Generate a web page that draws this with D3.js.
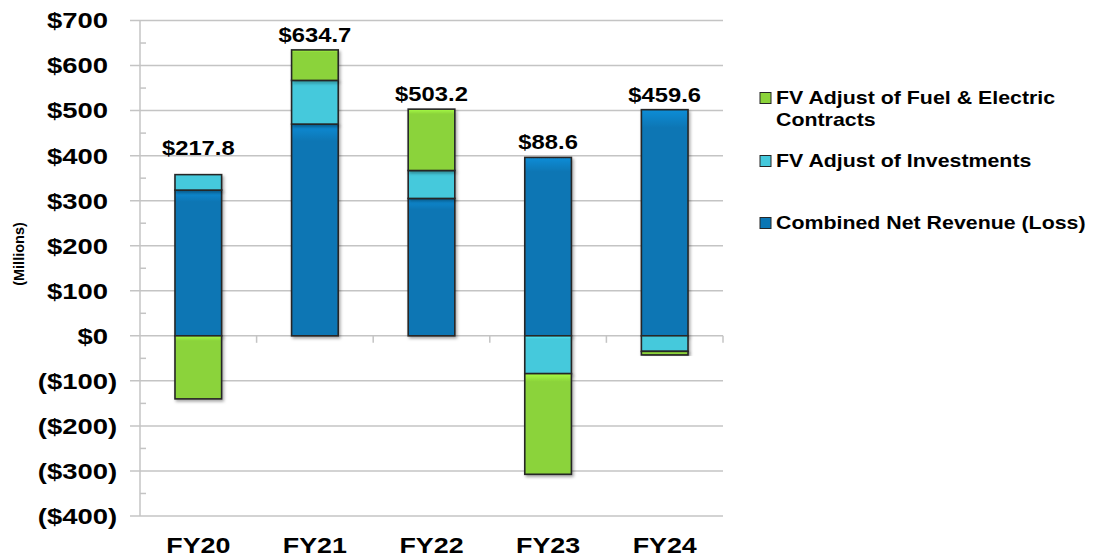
<!DOCTYPE html>
<html>
<head>
<meta charset="utf-8">
<script src="https://cdn.jsdelivr.net/npm/d3@7"></script>
<style>
  body { margin: 0; background: #fff; }
  svg text { font-family: "Liberation Sans", Arial, sans-serif; font-weight: bold; fill: #000; }
</style>
</head>
<body>
<svg id="chart" width="1093" height="560"></svg>
<script>
var years = ['FY20', 'FY21', 'FY22', 'FY23', 'FY24'];
var netRevenue = [323.5, 470.0, 305.0, 396.0, 502.0];
var fvInvestments = [34.3, 97.0, 62.0, -84.0, -34.5];
var fvFuelElectric = [-140.0, 67.7, 136.2, -223.4, -7.9];
var totals = [217.8, 634.7, 503.2, 88.6, 459.6];
var yTicks = [700, 600, 500, 400, 300, 200, 100, 0, -100, -200, -300, -400];

var seriesKeys = ['net', 'inv', 'fuel'];
var seriesNames = {
  fuel: ['FV Adjust of Fuel & Electric', 'Contracts'],
  inv: ['FV Adjust of Investments'],
  net: ['Combined Net Revenue (Loss)']
};
var colors = {net: '#0a76b4', inv: '#45c9dc', fuel: '#8bd33a'};

// the source picture is stretched sideways, so text is too
var stretch = 1.22;

var svg = d3.select('#chart');
// plot box (note: "top" is taken by window.top)
var plotLeft = 140, plotRight = 723, plotTop = 20.5, plotBottom = 516;

var rows = years.map(function (d, i) {
  return {year: d, net: netRevenue[i], inv: fvInvestments[i], fuel: fvFuelElectric[i], total: totals[i]};
});

var x = d3.scaleBand().domain(years).range([plotLeft, plotRight]).paddingInner(0.6).paddingOuter(0.3);
var y = d3.scaleLinear().domain([-400, 700]).range([plotBottom, plotTop]);

var defs = svg.append('defs');
var shadow = defs.append('filter').attr('id', 'shadow')
  .attr('x', '-20%').attr('y', '-20%').attr('width', '150%').attr('height', '150%');
shadow.append('feDropShadow').attr('dx', 1.5).attr('dy', 2).attr('stdDeviation', 1.5)
  .attr('flood-color', '#000').attr('flood-opacity', 0.35);

seriesKeys.forEach(function (k) {
  var g = defs.append('linearGradient').attr('id', 'grad-' + k)
    .attr('x1', 0).attr('y1', 0).attr('x2', 0).attr('y2', 1);
  var c = d3.color(colors[k]);
  g.append('stop').attr('offset', 0).attr('stop-color', c.brighter(0.5));
  g.append('stop').attr('offset', 0.08).attr('stop-color', colors[k]);
  g.append('stop').attr('offset', 1).attr('stop-color', colors[k]);
});

// gridlines
svg.append('g').selectAll('line').data(yTicks).enter().append('line')
  .attr('x1', plotLeft - 10).attr('x2', plotRight)
  .attr('y1', function (d) { return y(d); }).attr('y2', function (d) { return y(d); })
  .attr('stroke', '#c4c4c4').attr('stroke-width', 1.5);

// minor ticks
svg.append('g').selectAll('line').data(d3.range(-350, 700, 100)).enter().append('line')
  .attr('x1', plotLeft).attr('x2', plotLeft + 6)
  .attr('y1', function (d) { return y(d); }).attr('y2', function (d) { return y(d); })
  .attr('stroke', '#c4c4c4').attr('stroke-width', 1.5);

// axis line
svg.append('line').attr('x1', plotLeft).attr('x2', plotLeft).attr('y1', y(700)).attr('y2', y(-400))
  .attr('stroke', '#c4c4c4').attr('stroke-width', 1.5);

// category ticks on the zero line
svg.append('g').selectAll('line').data(years).enter().append('line')
  .attr('x1', function (d) { return x(d) + x.bandwidth() + x.step() * 0.3; })
  .attr('x2', function (d) { return x(d) + x.bandwidth() + x.step() * 0.3; })
  .attr('y1', y(0)).attr('y2', y(0) + 7)
  .attr('stroke', '#c4c4c4').attr('stroke-width', 1.5);

// y labels
var fontTick = 22.5;
svg.append('g').selectAll('g').data(yTicks).enter().append('g')
  .attr('transform', function (d) {
    var xr = 108 + (d < 0 ? 0.333 * fontTick * stretch : 0);
    return 'translate(' + xr + ',' + y(d) + ') scale(' + stretch + ',1)';
  })
  .append('text')
  .attr('text-anchor', 'end').attr('dy', '0.35em')
  .style('font-size', fontTick + 'px')
  .text(function (d) { return d < 0 ? '($' + (-d) + ')' : '$' + d; });

svg.append('text')
  .attr('transform', 'translate(24,254) rotate(-90)')
  .attr('text-anchor', 'middle')
  .style('font-size', '14.5px')
  .text('(Millions)');

// stacked bars
var stack = d3.stack().keys(seriesKeys).offset(d3.stackOffsetDiverging);
var layers = stack(rows);

svg.append('g').selectAll('g').data(layers).enter().append('g')
  .attr('fill', function (d) { return 'url(#grad-' + d.key + ')'; })
  .selectAll('rect').data(function (d) { return d; }).enter().append('rect')
  .attr('x', function (d) { return x(d.data.year); })
  .attr('width', x.bandwidth())
  .attr('y', function (d) { return y(Math.max(d[0], d[1])); })
  .attr('height', function (d) { return Math.abs(y(d[0]) - y(d[1])); })
  .attr('stroke', '#262626').attr('stroke-width', 1.6)
  .attr('filter', 'url(#shadow)');

// total labels, sit above the positive stack
svg.append('g').selectAll('g').data(rows).enter().append('g')
  .attr('transform', function (d) {
    var pos = Math.max(d.net, 0) + Math.max(d.inv, 0) + Math.max(d.fuel, 0);
    return 'translate(' + (x(d.year) + x.bandwidth() / 2) + ',' + (y(Math.max(pos, 383)) - 8) + ') scale(' + stretch + ',1)';
  })
  .append('text')
  .attr('text-anchor', 'middle')
  .style('font-size', '19.5px')
  .text(function (d) { return '$' + d.total.toFixed(1); });

// category labels
svg.append('g').selectAll('g').data(years).enter().append('g')
  .attr('transform', function (d) {
    return 'translate(' + (x(d) + x.bandwidth() / 2) + ',553) scale(' + stretch + ',1)';
  })
  .append('text')
  .attr('text-anchor', 'middle')
  .style('font-size', '22px')
  .text(function (d) { return d; });

// legend
var legendY = {fuel: 98, inv: 161, net: 223};
var legend = svg.append('g').selectAll('g').data(['fuel', 'inv', 'net']).enter().append('g')
  .attr('transform', function (d) { return 'translate(760,' + legendY[d] + ')'; });

legend.append('rect')
  .attr('x', 0).attr('y', -5.5).attr('width', 11).attr('height', 11)
  .attr('fill', function (d) { return colors[d]; })
  .attr('stroke', '#262626').attr('stroke-width', 1);

legend.append('g')
  .attr('transform', 'translate(16,0) scale(' + stretch + ',1)')
  .append('text')
  .style('font-size', '17.5px')
  .selectAll('tspan').data(function (d) { return seriesNames[d]; }).enter().append('tspan')
  .attr('x', 0)
  .attr('y', function (d, i) { return i * 21.5; })
  .attr('dy', '0.36em')
  .text(function (d) { return d; });
</script>
</body>
</html>
